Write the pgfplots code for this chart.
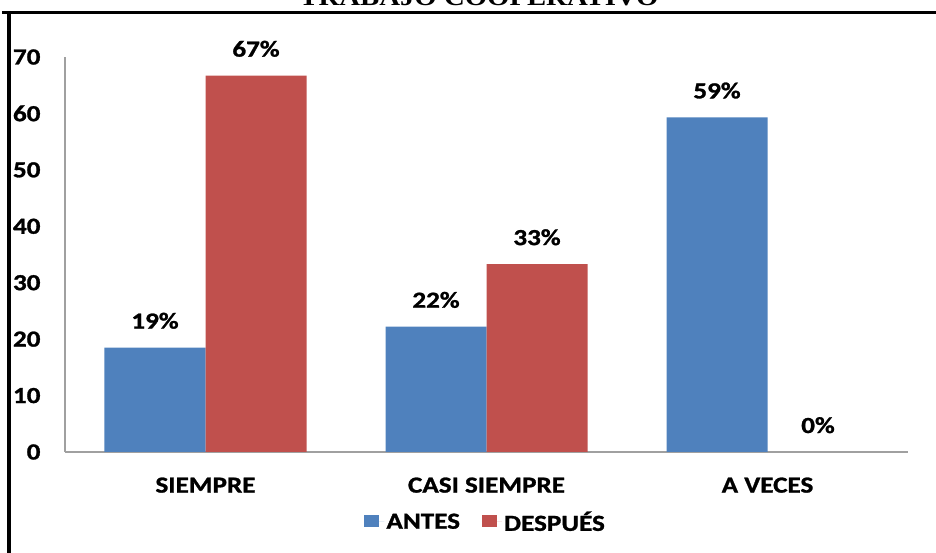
\documentclass[border=0pt]{standalone}
\usepackage{fontspec}
\setmainfont{Carlito}[FakeStretch=1.18, BoldFeatures={FakeBold=1.2}]
\newfontfamily\titlefont{Liberation Serif}[FakeStretch=1.15]
\usepackage{pgfplots}
\pgfplotsset{compat=1.18}
\usepackage{pgfplotstable}
\definecolor{cblue}{HTML}{4F81BD}
\definecolor{cred}{HTML}{C0504D}
\definecolor{axgray}{HTML}{A0A0A0}
\pgfplotstableread{
x y lab
0 18.5 19\%
1 22.2 22\%
2 59.3 59\%
}\antes
\pgfplotstableread{
x y lab
0 66.7 67\%
1 33.3 33\%
2 0 0\%
}\despues
\newcommand{\cf}{\fontsize{23bp}{27bp}\selectfont\bfseries}
\begin{document}
\begin{tikzpicture}
\useasboundingbox (0,0) rectangle (936bp,553bp);
\begin{axis}[
  at={(65bp,101bp)}, anchor=south west,
  scale only axis, width=843bp, height=395bp,
  ymin=0, ymax=70, xmin=-0.5, xmax=2.5,
  ybar=0pt, bar width=101bp,
  axis x line=bottom, axis y line=left,
  axis line style={axgray, line width=1.2bp, -},
  xtick={0,1,2}, xticklabels={SIEMPRE,CASI SIEMPRE,A VECES},
  ytick={0,10,...,70},
  major tick length=0pt,
  /pgf/number format/assume math mode=true,
  ticklabel style={font=\cf, text=black},
  yticklabel style={xshift=-21bp},
  xticklabel style={yshift=-22bp},
  nodes near coords,
  point meta=explicit symbolic,
  every node near coord/.append style={font=\cf, text=black, anchor=base, yshift=19bp},
  legend columns=2,
  legend style={at={(0.499,-0.177)}, anchor=center, draw=none, font=\cf,
    /tikz/every even column/.append style={column sep=20bp}},
  legend image code/.code={\fill[#1] (0bp,-5bp) rectangle (15bp,7bp); \path (0bp,0bp) -- (20bp,0bp);},
]
\addplot[fill=cblue, draw=none] table[x=x, y=y, meta=lab] {\antes};
\addplot[fill=cred, draw=none] table[x=x, y=y, meta=lab] {\despues};
\legend{ANTES, DESPUÉS}
\end{axis}
\draw[line width=3.5bp, black] (2bp,540.5bp) -- (940bp,540.5bp);
\draw[line width=4bp, black] (9bp,542bp) -- (9bp,-5bp);
\node[font=\titlefont\fontsize{25bp}{28bp}\selectfont\bfseries, anchor=base] at (479bp,547bp) {TRABAJO COOPERATIVO};
\end{tikzpicture}
\end{document}
